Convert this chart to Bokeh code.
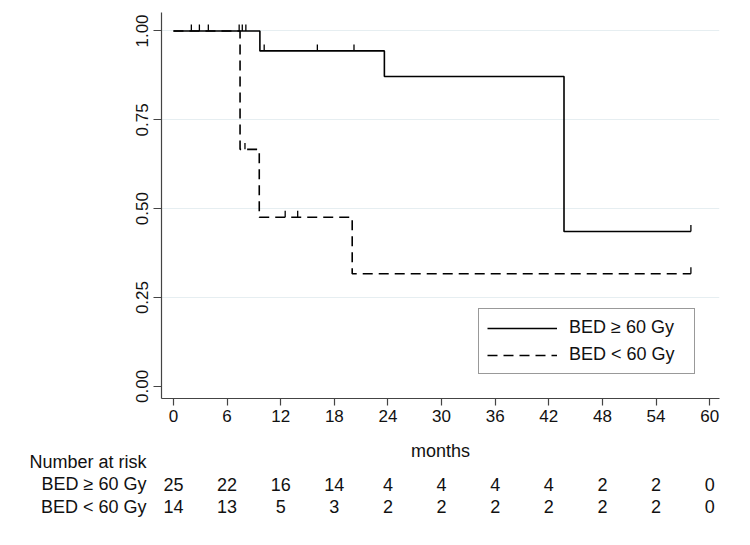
import numpy as np
from bokeh.plotting import figure
from bokeh.layouts import column
from bokeh.models import (Range1d, FixedTicker, Legend, LegendItem, NumeralTickFormatter, LinearAxis)
from bokeh.core.properties import value
from bokeh.embed import file_html
from bokeh.resources import INLINE

# ---- data ----
hi_times = [0.0, 9.67, 23.6, 43.7, 57.9]          # BED >= 60 Gy step change times (months)
hi_surv = [1.0, 0.944, 0.872, 0.436, 0.436]
lo_times = [0.0, 7.45, 9.6, 20.0, 57.9]           # BED < 60 Gy
lo_surv = [1.0, 0.667, 0.476, 0.317, 0.317]

hi_censor = [2.0, 2.9, 3.9, 7.35, 7.7, 8.1, 10.15, 16.1, 20.2, 57.9]
lo_censor = [8.0, 12.5, 13.9, 57.9]

risk_times = [0, 6, 12, 18, 24, 30, 36, 42, 48, 54, 60]
risk_hi = [25, 22, 16, 14, 4, 4, 4, 4, 2, 2, 0]
risk_lo = [14, 13, 5, 3, 2, 2, 2, 2, 2, 2, 0]

x_ticks = [0, 6, 12, 18, 24, 30, 36, 42, 48, 54, 60]
y_ticks = [0.0, 0.25, 0.5, 0.75, 1.0]
labels = ["BED \u2265 60 Gy", "BED < 60 Gy"]
x_title = "months"
table_title = "Number at risk"

FONT = "Liberation Sans"
TXT = "#111111"

W = 734
LEFT, RIGHT, TOP = 161, 15, 12
FRAME_H = 386
MAIN_H = 436
TABLE_H = 92
X0, X1 = -1.34, 61.1

p = figure(width=W, height=MAIN_H, output_backend="svg", toolbar_location=None,
           x_range=Range1d(X0, X1), y_range=Range1d(-0.034, 1.052),
           min_border_left=LEFT, min_border_right=RIGHT, min_border_top=TOP,
           min_border_bottom=MAIN_H - TOP - FRAME_H)
p.outline_line_color = None
p.background_fill_color = "white"
p.border_fill_color = "white"

# grid
p.xgrid.grid_line_color = None
p.ygrid.ticker = FixedTicker(ticks=[0.25, 0.5, 0.75, 1.0])
p.ygrid.grid_line_color = "#e6eef1"
p.ygrid.grid_line_width = 1

# axes
for ax in (p.xaxis[0], p.yaxis[0]):
    ax.axis_line_color = "#444444"
    ax.axis_line_width = 1.2
    ax.major_tick_line_color = "#444444"
    ax.major_tick_line_width = 1.2
    ax.major_tick_in = 0
    ax.minor_tick_line_color = None
    ax.major_label_text_font = FONT
    ax.major_label_text_font_size = "17px"
    ax.major_label_text_color = TXT

p.xaxis.ticker = FixedTicker(ticks=x_ticks)
p.xaxis.major_tick_out = 7
p.xaxis.major_label_standoff = 4

p.yaxis.ticker = FixedTicker(ticks=y_ticks)
p.yaxis.formatter = NumeralTickFormatter(format="0.00")
p.yaxis.major_tick_out = 8
p.yaxis.major_label_standoff = 5
p.yaxis.major_label_orientation = "vertical"

# curves
lo_line = p.step(lo_times, lo_surv, mode="after", line_color="black", line_width=1.6,
                 line_dash="10 6")
hi_line = p.step(hi_times, hi_surv, mode="after", line_color="black", line_width=1.6)

def level(times, surv, t):
    idx = np.searchsorted(np.array(times), np.array(t), side="right") - 1
    return np.array(surv)[idx]

tick_h = 0.018
hi_lv = level(hi_times, hi_surv, hi_censor)
lo_lv = level(lo_times, lo_surv, lo_censor)
p.segment(x0=hi_censor, y0=hi_lv, x1=hi_censor, y1=hi_lv + tick_h, line_color="black", line_width=1.3)
p.segment(x0=lo_censor, y0=lo_lv, x1=lo_censor, y1=lo_lv + tick_h, line_color="black", line_width=1.3)

# legend
legend = Legend(items=[LegendItem(label=labels[0], renderers=[hi_line]),
                       LegendItem(label=labels[1], renderers=[lo_line])],
                location=(317, 24), orientation="vertical")
legend.label_text_font = FONT
legend.label_text_font_size = "18px"
legend.label_text_color = TXT
legend.glyph_width = 70
legend.glyph_height = 20
legend.label_height = 20
legend.label_width = 117
legend.label_standoff = 12
legend.spacing = 6
legend.padding = 8
legend.margin = 0
legend.border_line_color = "#333333"
legend.border_line_width = 1
legend.background_fill_color = "white"
legend.background_fill_alpha = 1
p.add_layout(legend)

# ---- number-at-risk table figure below, sharing the x scale ----
t = figure(width=W, height=TABLE_H, output_backend="svg", toolbar_location=None,
           x_range=p.x_range, y_range=Range1d(TABLE_H, 0),
           x_axis_type=None, y_axis_type=None,
           min_border_left=LEFT, min_border_right=RIGHT, min_border_top=0, min_border_bottom=0)
t.outline_line_color = None
t.background_fill_color = "white"
t.border_fill_color = "white"

y_months, y_head, y_row1, y_row2 = 14.5, 25.5, 47.5, 70.0

# row names as the table's left axis labels
row_axis = LinearAxis(ticker=FixedTicker(ticks=[y_head, y_row1, y_row2]),
                      major_label_overrides={y_head: table_title, y_row1: labels[0], y_row2: labels[1]})
row_axis.axis_line_color = None
row_axis.major_tick_line_color = None
row_axis.minor_tick_line_color = None
row_axis.major_tick_in = 0
row_axis.major_tick_out = 0
row_axis.major_label_standoff = 15
row_axis.major_label_orientation = "horizontal"
row_axis.major_label_text_font = FONT
row_axis.major_label_text_font_size = "18px"
row_axis.major_label_text_color = TXT
t.add_layout(row_axis, "left")

t.text(x=[(X0 + X1) / 2], y=[y_months], text=[x_title], text_align="center",
       text_baseline="middle", text_font=value(FONT), text_font_size="18px", text_color=TXT)
for yy, counts in ((y_row1, risk_hi), (y_row2, risk_lo)):
    t.text(x=risk_times, y=[yy] * len(risk_times), text=[str(c) for c in counts],
           text_align="center", text_baseline="middle", text_font=value(FONT),
           text_font_size="18px", text_color=TXT)

layout = column(p, t, spacing=0)
open("out.html", "w").write(file_html(layout, INLINE))
